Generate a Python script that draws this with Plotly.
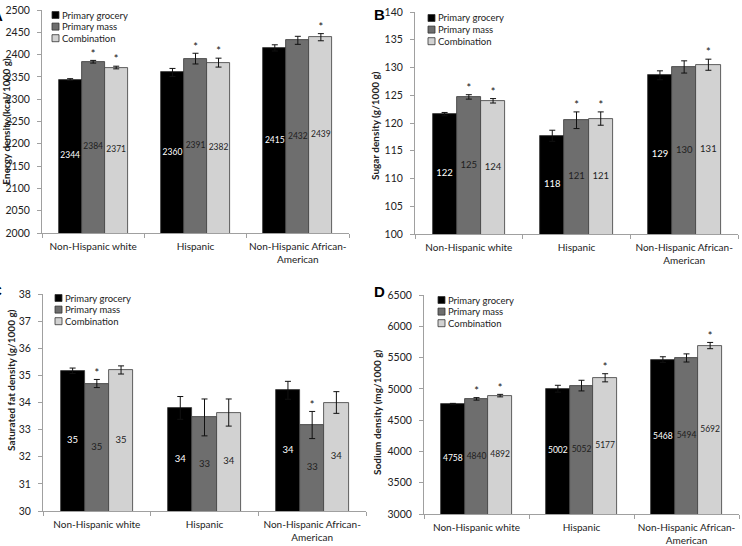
import plotly.graph_objects as go

categories = ["Non-Hispanic white", "Hispanic", "Non-Hispanic African-<br>American"]
series = ["Primary grocery", "Primary mass", "Combination"]
colors = ["#000000", "#6e6e6e", "#d2d2d2"]
label_colors = ["#ffffff", "#1e1e1e", "#1e1e1e"]

# Panel A: Energy density (kcal/1000 g)
energy = [[2344, 2360, 2415], [2384, 2391, 2432], [2371, 2382, 2439]]
energy_err = [[2, 9, 7], [3, 12, 9], [3, 10, 8]]
energy_sig = [[0, 0, 0], [1, 1, 0], [1, 1, 1]]

# Panel B: Sugar density (g/1000 g)
sugar = [[121.6, 117.7, 128.6], [124.7, 120.5, 130.1], [124.0, 120.8, 130.5]]
sugar_err = [[0.3, 1.0, 0.8], [0.4, 1.5, 1.1], [0.4, 1.2, 1.0]]
sugar_lbl = [[122, 118, 129], [125, 121, 130], [124, 121, 131]]
sugar_sig = [[0, 0, 0], [1, 1, 0], [1, 1, 1]]

# Panel C: Saturated fat density (g/1000 g)
satfat = [[35.17, 33.80, 34.45], [34.70, 33.45, 33.17], [35.20, 33.63, 34.00]]
satfat_err = [[0.10, 0.42, 0.33], [0.15, 0.68, 0.50], [0.15, 0.50, 0.40]]
satfat_lbl = [[35, 34, 34], [35, 33, 33], [35, 34, 34]]
satfat_sig = [[0, 0, 0], [1, 0, 1], [0, 0, 0]]

# Panel D: Sodium density (mg/1000 g)
sodium = [[4758, 5002, 5468], [4840, 5052, 5494], [4892, 5177, 5692]]
sodium_err = [[10, 55, 45], [20, 85, 65], [20, 65, 50]]
sodium_sig = [[0, 0, 0], [1, 0, 0], [1, 1, 1]]

W, H = 742, 546
panels = [
    dict(vals=energy, err=energy_err, lbl=energy, sig=energy_sig, rng=[2000, 2500], dtick=50,
         title="Energy density (kcal/1000 g)", letter="A", lblsize=8.5, tpos=None,
         xd=[42, 349], yd=[233, 10], leg=(52, 15), let=(-10, 5)),
    dict(vals=sugar, err=sugar_err, lbl=sugar_lbl, sig=sugar_sig, rng=[100, 140], dtick=5,
         title="Sugar density (g/1000 g)", letter="B", lblsize=9.5, tpos=(375, 126),
         xd=[415, 738], yd=[234, 12], leg=(428, 18), let=(372, 4)),
    dict(vals=satfat, err=satfat_err, lbl=satfat_lbl, sig=satfat_sig, rng=[30, 38], dtick=1,
         title="Saturated fat density (g/1000 g)", letter="C", lblsize=9.5, tpos=(11, 380),
         xd=[43, 366], yd=[511, 294], leg=(55, 298), let=(-11, 280)),
    dict(vals=sodium, err=sodium_err, lbl=sodium, sig=sodium_sig, rng=[3000, 6500], dtick=500,
         title="Sodium density (mg/1000 g)", letter="D", lblsize=8.5, tpos=(377, 412),
         xd=[424, 739], yd=[514, 295], leg=(438, 300), let=(372, 281)),
]

FONT = "Lato, Open Sans, sans-serif"
TXT = "#222222"
AXC = "#a0a0a0"
fig = go.Figure()
w = 0.225
xs = [0, 1, 2]
annotations = []
shapes = []
layout = {}
for p_i, p in enumerate(panels):
    n = "" if p_i == 0 else str(p_i + 1)
    xa, ya = "x" + n, "y" + n
    base = p["rng"][0]
    for s_i, s in enumerate(series):
        off = -1.5 * w + s_i * w
        fig.add_trace(go.Bar(
            x=xs, y=p["vals"][s_i], name=s, xaxis=xa, yaxis=ya,
            width=w, offset=off,
            marker=dict(color=colors[s_i], line=dict(color="#3a3a3a", width=0.8)),
            error_y=dict(type="data", array=p["err"][s_i], color="#111111", thickness=1, width=3),
            showlegend=False,
        ))
        cx = [xs[c] + off + w / 2 for c in range(3)]
        fig.add_trace(go.Scatter(
            x=cx, y=[(base + v) / 2 for v in p["vals"][s_i]], mode="text",
            text=[str(v) for v in p["lbl"][s_i]], textposition="middle center",
            textfont=dict(size=p["lblsize"], color=label_colors[s_i], family=FONT),
            xaxis=xa, yaxis=ya, showlegend=False, hoverinfo="skip"))
        sx, sy = [], []
        for c_i in range(3):
            if p["sig"][s_i][c_i]:
                sx.append(cx[c_i])
                sy.append(p["vals"][s_i][c_i] + p["err"][s_i][c_i])
        if sx:
            fig.add_trace(go.Scatter(
                x=sx, y=sy, mode="text", text=["*"] * len(sx), textposition="top center",
                textfont=dict(size=11, color="#111111", family=FONT),
                xaxis=xa, yaxis=ya, showlegend=False, hoverinfo="skip"))
    layout["xaxis" + n] = dict(
        domain=[p["xd"][0] / W, p["xd"][1] / W], anchor=ya, range=[-0.5, 2.5],
        tickmode="array", tickvals=xs, ticktext=categories, ticks="",
        ticklabelstandoff=4, automargin=False,
        showline=True, linecolor=AXC, linewidth=1, showgrid=False, zeroline=False,
        tickfont=dict(size=10, color=TXT, family=FONT),
        minor=dict(tickmode="array", tickvals=[-0.5, 0.5, 1.5, 2.5], ticks="outside",
                   ticklen=4, tickcolor=AXC, showgrid=False),
        fixedrange=True,
    )
    yax = dict(
        domain=[1 - p["yd"][0] / H, 1 - p["yd"][1] / H], anchor=xa, range=p["rng"],
        dtick=p["dtick"], tick0=p["rng"][0], automargin=False,
        showline=True, linecolor=AXC, linewidth=1, showgrid=False, zeroline=False,
        ticks="outside", ticklen=4, tickcolor=AXC, ticklabelstandoff=5,
        tickfont=dict(size=10.5, color=TXT, family=FONT),
        fixedrange=True,
    )
    if p["tpos"] is None:
        # panel A: its title sits at the very left edge, partly cropped as in the original
        yax["title"] = dict(text="<b>" + p["title"] + "</b>",
                            font=dict(size=10, color=TXT, family=FONT), standoff=0)
    else:
        annotations.append(dict(
            text="<b>" + p["title"] + "</b>", xref="paper", yref="paper",
            x=p["tpos"][0] / W, y=1 - p["tpos"][1] / H, xanchor="center", yanchor="middle",
            textangle=-90, showarrow=False, font=dict(size=10, color=TXT, family=FONT)))
    layout["yaxis" + n] = yax
    # legend (drawn compactly, as in the original figure)
    lx, ly = p["leg"]
    for s_i, s in enumerate(series):
        cy = ly + s_i * 11.6
        shapes.append(dict(type="rect", xref="paper", yref="paper",
                           x0=lx / W, x1=(lx + 7) / W, y0=1 - (cy + 3.5) / H, y1=1 - (cy - 3.5) / H,
                           fillcolor=colors[s_i], line=dict(color="#333333", width=0.8)))
        annotations.append(dict(text=s, xref="paper", yref="paper", x=(lx + 8) / W, y=1 - cy / H,
                                xanchor="left", yanchor="middle", showarrow=False,
                                font=dict(size=9.5, color=TXT, family=FONT)))
    annotations.append(dict(
        text="<b>" + p["letter"] + "</b>", xref="paper", yref="paper",
        x=p["let"][0] / W, y=1 - p["let"][1] / H, xanchor="left", yanchor="top", showarrow=False,
        font=dict(size=15, color="#000000", family="Liberation Sans, Arial, sans-serif")))

fig.update_layout(
    width=W, height=H, margin=dict(l=0, r=0, t=0, b=0, autoexpand=False),
    paper_bgcolor="white", plot_bgcolor="white",
    barmode="overlay", bargap=0, showlegend=False,
    annotations=annotations, shapes=shapes,
    font=dict(family=FONT),
    **layout,
)
fig.write_html("out.html")
